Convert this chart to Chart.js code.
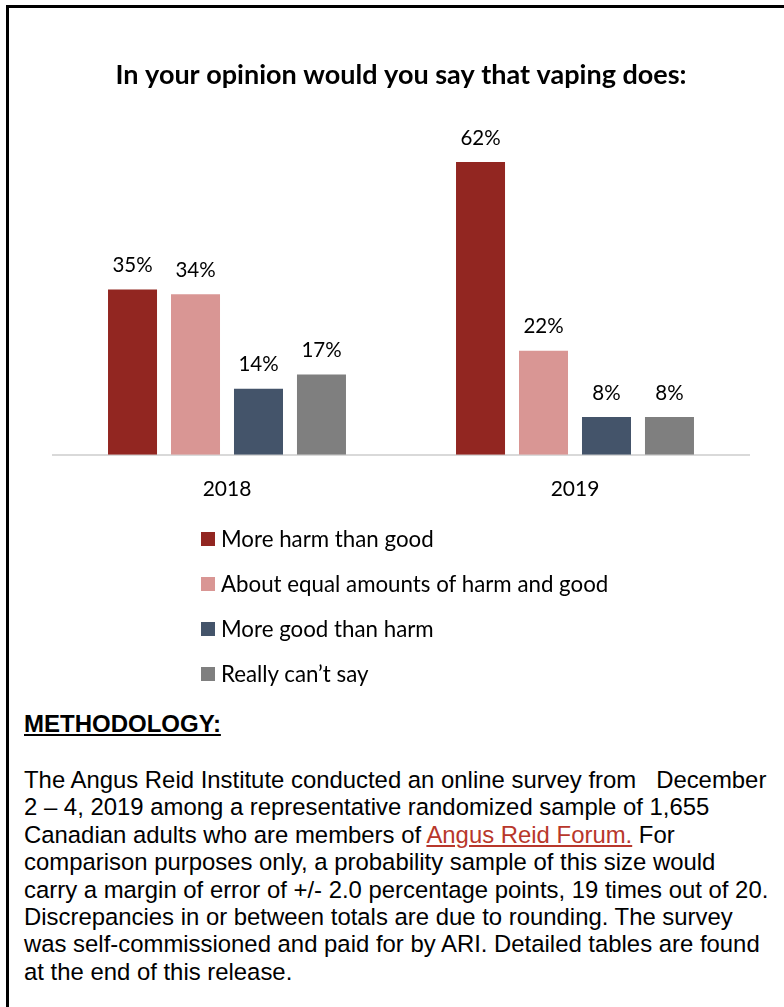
<!DOCTYPE html>
<html>
<head>
<meta charset="utf-8">
<title>Vaping opinion</title>
<script src="https://cdn.jsdelivr.net/npm/chart.js@4.4.1/dist/chart.umd.min.js"></script>
<style>
  html, body { margin: 0; padding: 0; background: #fff; }
  #page { position: relative; width: 784px; height: 1007px; overflow: hidden; }
  #frame { position: absolute; left: 6px; top: 5px; right: 0; bottom: 0;
           border-top: 3px solid #000; border-left: 3px solid #000; }
  #chartBox { position: absolute; left: 0; top: 0; width: 784px; height: 545px; }
  #legend { position: absolute; left: 201px; top: 516px; font-family: Lato, sans-serif;
            font-size: 22.3px; color: #000; }
  .legend-row { height: 45px; display: flex; align-items: center; }
  .legend-box { width: 14px; height: 14px; margin-right: 6px; }
  #method { position: absolute; left: 24px; top: 710px; font-family: "Liberation Sans", Arial, sans-serif;
            font-size: 24px; line-height: 28px; font-weight: bold; text-decoration: underline; }
  #para { position: absolute; left: 24px; top: 766px; font-family: "Liberation Sans", Arial, sans-serif;
          font-size: 23.9px; line-height: 27.4px; white-space: pre; color: #000; }
  #para a { color: #b8372b; text-decoration: underline; }
</style>
</head>
<body>
<div id="page">
  <div id="frame"></div>
  <div id="chartBox"><canvas id="vapingChart" width="784" height="545"></canvas></div>
  <div id="legend"></div>
  <div id="method">METHODOLOGY:</div>
  <div id="para">The Angus Reid Institute conducted an online survey from   December
2 – 4, 2019 among a representative randomized sample of 1,655
Canadian adults who are members of <a>Angus Reid Forum.</a> For
comparison purposes only, a probability sample of this size would
carry a margin of error of +/- 2.0 percentage points, 19 times out of 20.
Discrepancies in or between totals are due to rounding. The survey
was self-commissioned and paid for by ARI. Detailed tables are found
at the end of this release.</div>
</div>

<script>
// Survey years and answer shares (%)
const years = ['2018', '2019'];
const answers = [
  'More harm than good',
  'About equal amounts of harm and good',
  'More good than harm',
  'Really can\u2019t say'
];
const moreHarm = [35, 62];
const equalHarmGood = [34, 22];
const moreGood = [14, 8];
const cantSay = [17, 8];

const colors = ['#922621', '#d99694', '#44546a', '#7f7f7f'];
const seriesValues = [moreHarm, equalHarmGood, moreGood, cantSay];

// percent labels above each bar
const barLabels = {
  id: 'barLabels',
  afterDatasetsDraw(chart) {
    const ctx = chart.ctx;
    ctx.save();
    ctx.font = '20.5px Lato, sans-serif';
    ctx.fillStyle = '#000';
    ctx.textAlign = 'center';
    ctx.textBaseline = 'middle';
    chart.data.datasets.forEach((ds, i) => {
      chart.getDatasetMeta(i).data.forEach((bar, j) => {
        ctx.fillText(ds.data[j] + '%', bar.x, bar.y - 24);
      });
    });
    ctx.restore();
  }
};

function buildLegend() {
  const legend = document.getElementById('legend');
  answers.forEach((name, i) => {
    const row = document.createElement('div');
    row.className = 'legend-row';
    const box = document.createElement('span');
    box.className = 'legend-box';
    box.style.background = colors[i];
    const txt = document.createElement('span');
    txt.textContent = name;
    row.appendChild(box);
    row.appendChild(txt);
    legend.appendChild(row);
  });
}

function renderChart() {
  const ctx = document.getElementById('vapingChart').getContext('2d');
  new Chart(ctx, {
    type: 'bar',
    data: {
      labels: years,
      datasets: answers.map((name, i) => ({
        label: name,
        data: seriesValues[i],
        backgroundColor: colors[i],
        categoryPercentage: 0.724,
        barPercentage: 0.778
      }))
    },
    options: {
      responsive: false,
      animation: false,
      layout: { padding: { left: 53, right: 35, top: 0, bottom: 21 } },
      plugins: {
        legend: { display: false },
        tooltip: { enabled: false },
        title: {
          display: true,
          text: 'In your opinion would you say that vaping does:',
          color: '#000',
          font: { family: 'Lato', size: 27, weight: 'bold' },
          padding: { top: 59.5, bottom: 32.2 }
        }
      },
      scales: {
        x: {
          grid: { display: false, drawTicks: false },
          border: { display: true, color: '#d9d9d9', width: 2 },
          ticks: { color: '#000', font: { family: 'Lato', size: 21 }, padding: 22 }
        },
        y: { display: false, min: 0, max: 70 }
      }
    },
    plugins: [barLabels]
  });
}

window.addEventListener('DOMContentLoaded', () => {
  buildLegend();
  renderChart();
});
</script>
</body>
</html>
